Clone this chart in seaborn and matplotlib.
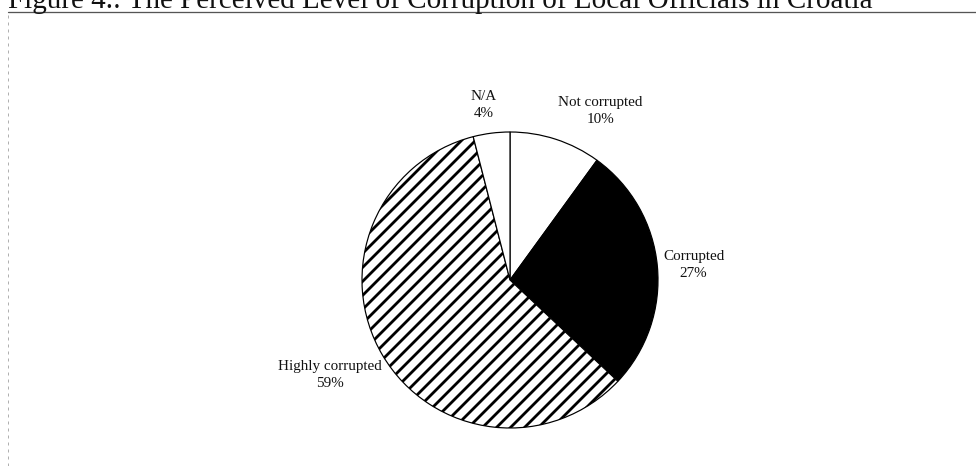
import matplotlib
matplotlib.use("Agg")
import matplotlib.pyplot as plt
import seaborn as sns

DPI = 126


def pt(px):
    return px * 72 / DPI


sns.set_theme(style="white")
plt.rcParams['font.family'] = ['Liberation Serif', 'DejaVu Serif']
plt.rcParams['hatch.linewidth'] = pt(2.8)
plt.rcParams['hatch.color'] = 'black'

categories = ["Not corrupted", "Corrupted", "Highly corrupted", "N/A"]
values = [10, 27, 59, 4]
title = "Figure 4.: The Perceived Level of Corruption of Local Officials in Croatia"

# styling / layout
face_colors = ["white", "black", "white", "white"]
hatches = ["", "", "///", ""]
label_xy = [(0.61, 1.14), (1.24, 0.10), (-1.22, -0.64), (-0.18, 1.18)]

W, H = 976, 466
fig = plt.figure(figsize=(W / DPI, H / DPI), dpi=DPI)
cx, cy, r = 510, 280, 148
ax = fig.add_axes([(cx - r) / W, (H - cy - r) / H, 2 * r / W, 2 * r / H])

labels = [f"{c}\n{v}%" for c, v in zip(categories, values)]
wedges, texts = ax.pie(values, labels=labels, startangle=90, counterclock=False,
                       colors=face_colors,
                       wedgeprops=dict(edgecolor="black", linewidth=pt(1.2)),
                       textprops=dict(fontsize=pt(15.2), color="#111111",
                                      linespacing=1.4))
for w, h in zip(wedges, hatches):
    w.set_hatch(h)
for t, (x, y) in zip(texts, label_xy):
    t.set_position((x, y))
    t.set_ha("center")
    t.set_va("center")
ax.set_xlim(-1, 1)
ax.set_ylim(-1, 1)
ax.set_aspect("equal")
ax.axis("off")

# clipped title and frame lines
fig.text(8 / W, 1 - 8 / H, title, fontsize=pt(29.2), ha="left", va="baseline",
         color="#111111")
fig.add_artist(plt.Line2D([8 / W, 1], [1 - 12 / H, 1 - 12 / H],
                          transform=fig.transFigure, color="#555555", lw=pt(1.3)))
fig.add_artist(plt.Line2D([8 / W, 8 / W], [0, 1 - 12 / H],
                          transform=fig.transFigure, color="#b0b0b0", lw=pt(1.0),
                          linestyle=(0, (3, 4))))

fig.savefig("out.png", dpi=DPI)
